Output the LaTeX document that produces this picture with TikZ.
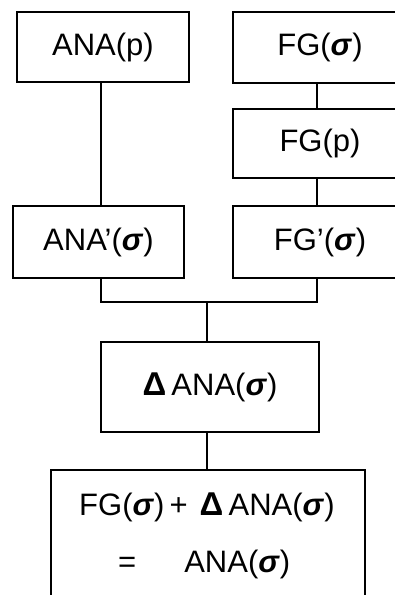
\documentclass[tikz,border=0pt]{standalone}
\usepackage{fontspec}
\setmainfont{Liberation Sans}
\newcommand{\sig}{{\bfseries\itshape σ}\kern1pt}
\newcommand{\Dl}{{\bfseries\fontsize{33}{34}\selectfont Δ}}
\begin{document}
\begin{tikzpicture}[x=1pt,y=-1pt,
  bx/.style={draw, line width=1.5pt, inner sep=0pt, font=\fontsize{31}{36}\selectfont},
  txt/.style={inner sep=0pt, font=\fontsize{31}{36}\selectfont},
  ln/.style={line width=1.5pt}]
\useasboundingbox (0,0) rectangle (395,595);
\clip (0,0) rectangle (395,595);
\node[bx, minimum width=172pt, minimum height=70pt] (ana) at (103,47) {ANA(p)};
\node[bx, minimum width=174pt, minimum height=71pt] (fgs) at (320,47.5) {FG(\sig)};
\node[bx, minimum width=174pt, minimum height=69pt] (fgp) at (320,143.5) {FG(p)};
\node[bx, minimum width=171pt, minimum height=72pt] (anas) at (98.5,242) {ANA'(\sig)};
\node[bx, minimum width=174pt, minimum height=72pt] (fgps) at (320,242) {FG'(\sig)};
\node[bx, minimum width=218pt, minimum height=90pt] (dana) at (210,387) {\Dl\,ANA(\sig)};
\node[bx, minimum width=314pt, minimum height=150pt] (res) at (208,545) {};
\node[txt, anchor=west] (l1) at (79,507) {FG(\sig)\,+\hspace{12pt}\Dl\,ANA(\sig)};
\node[txt, anchor=west] (l2) at (118,564) {=\hspace{48pt}ANA(\sig)};
\coordinate (j1) at (101,302);
\coordinate (j2) at (317,302);
\coordinate (jm) at (207,302);
\draw[ln] (ana.south -| j1) -- (anas.north -| j1);
\draw[ln] (fgs.south -| j2) -- (fgp.north -| j2);
\draw[ln] (fgp.south -| j2) -- (fgps.north -| j2);
\draw[ln] (anas.south -| j1) -- (j1) -- (j2) -- (fgps.south -| j2);
\draw[ln] (jm) -- (dana.north -| jm);
\draw[ln] (dana.south -| jm) -- (res.north -| jm);
\end{tikzpicture}
\end{document}
